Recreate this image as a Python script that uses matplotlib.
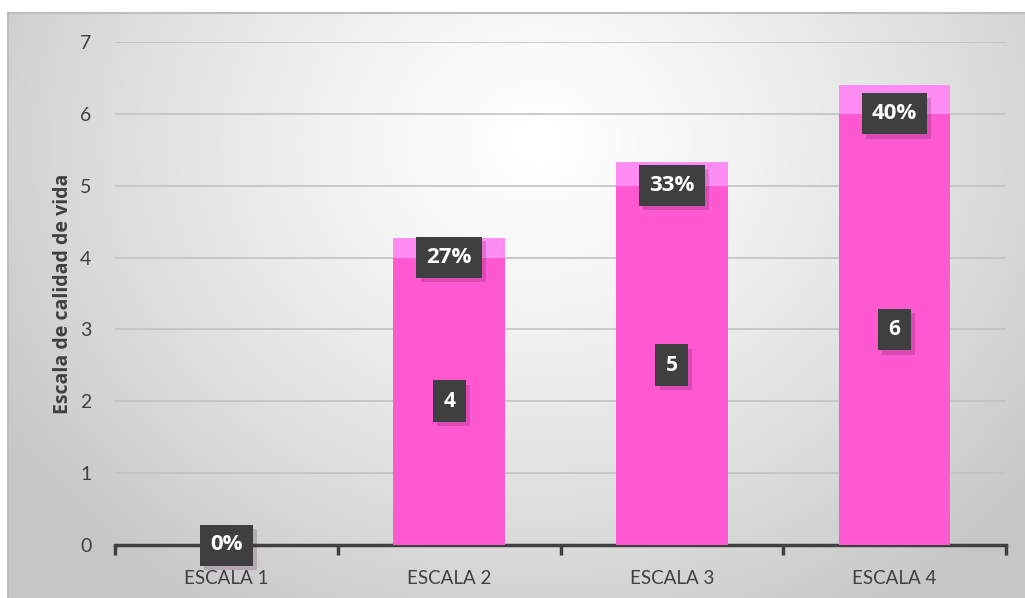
import matplotlib
matplotlib.use("Agg")
import matplotlib.pyplot as plt
import numpy as np
import matplotlib.patheffects as pe

categories = ["ESCALA 1", "ESCALA 2", "ESCALA 3", "ESCALA 4"]
values = [0, 4, 5, 6]
percent = [0.0, 0.27, 0.33, 0.40]
percent_labels = ["0%", "27%", "33%", "40%"]
ylabel = "Escala de calidad de vida"
yticks = [0, 1, 2, 3, 4, 5, 6, 7]

W, H = 1025, 598
fig = plt.figure(figsize=(W / 100, H / 100), dpi=100)
fig.patch.set_facecolor("white")

# background panel with radial gradient
bg = fig.add_axes([8 / W, 0, 1 - 8 / W, 1 - 13 / H])
bg.set_axis_off()
ny, nx = 300, 510
yy, xx = np.mgrid[0:ny, 0:nx]
cx, cy = nx * 0.52, ny * 0.22
r = np.sqrt(((xx - cx) / (nx * 0.62)) ** 2 + ((yy - cy) / (ny * 0.95)) ** 2)
r = np.clip(r, 0, 1)
lo, hi = 0.78, 1.0
val = hi - (hi - lo) * r ** 1.3
img = np.dstack([val, val, val])
bg.imshow(img, aspect="auto", extent=[0, 1, 0, 1], origin="upper")
bg.set_xlim(0, 1); bg.set_ylim(0, 1)
bg.plot([0, 0], [0, 1], color="#bdbdbd", lw=1.5, transform=bg.transAxes, clip_on=False)
bg.plot([0, 1], [1, 1], color="#bdbdbd", lw=1.5, transform=bg.transAxes, clip_on=False)

# main axes: x from 115 to 1006 px, y0 at 545, y7 at 42
x0, x1 = 115, 1006
y0p, y7p = 545, 42
ax = fig.add_axes([x0 / W, 1 - y0p / H, (x1 - x0) / W, (y0p - y7p) / H])
ax.patch.set_alpha(0)
n = len(categories)
x = np.arange(n)
ax.set_xlim(-0.5, n - 0.5)
ax.set_ylim(0, 7)
ax.set_yticks(yticks)
ax.yaxis.grid(True, color="#c2c2c2", lw=1.2)
ax.set_axisbelow(True)
for s in ["top", "right", "left"]:
    ax.spines[s].set_visible(False)
ax.spines["bottom"].set_color("#404040")
ax.spines["bottom"].set_linewidth(2.5)
ax.tick_params(axis="y", length=0, labelsize=14, labelcolor="#404040", pad=17)
ax.set_xticks(x)
ax.set_xticklabels(categories, fontsize=13.5, color="#404040", family="Lato")
ax.tick_params(axis="x", length=0, pad=18)
for lab in ax.get_yticklabels():
    lab.set_family("Lato")
# boundary ticks
ax.set_xticks(np.arange(-0.5, n, 1.0), minor=True)
ax.tick_params(axis="x", which="minor", length=7, width=2.5, color="#404040", direction="out")

bw = 0.5
ax.bar(x, values, bw, color="#ff59d2", zorder=3)
ax.bar(x, percent, bw, bottom=values, color="#ff8cf2", zorder=3)

ax.set_ylabel(ylabel, fontsize=14, fontweight="bold", color="#404040", family="Open Sans", labelpad=5)

shadow = [pe.withSimplePatchShadow(offset=(3, -3), shadow_rgbFace="#5a2050", alpha=0.22)]
for i in range(n):
    if values[i] > 0:
        t = ax.text(x[i], values[i] / 2, str(values[i]), ha="center", va="center",
                    color="white", fontsize=15, fontweight="bold", family="Open Sans",
                    bbox=dict(boxstyle="square,pad=0.5", fc="#3f3f3f", ec="none"), zorder=5)
        t.get_bbox_patch().set_path_effects(shadow)
    t2 = ax.text(x[i], values[i], percent_labels[i], ha="center", va="center",
                 color="white", fontsize=16, fontweight="bold", family="Open Sans",
                 bbox=dict(boxstyle="square,pad=0.45", fc="#3f3f3f", ec="none"),
                 zorder=5, clip_on=False)
    t2.get_bbox_patch().set_path_effects(shadow)

fig.savefig("out.png", dpi=100)
